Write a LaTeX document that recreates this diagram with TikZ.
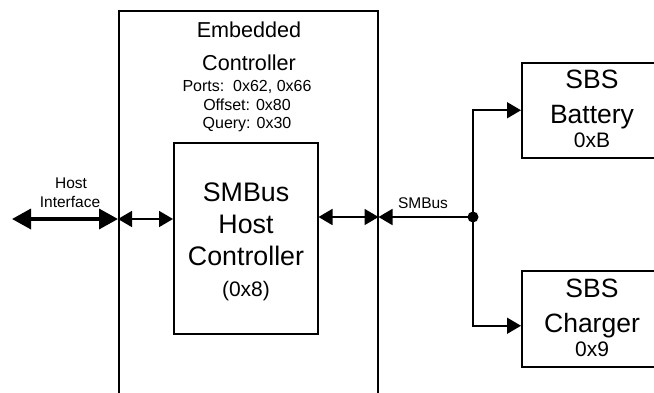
\documentclass[tikz,border=0pt]{standalone}
\usepackage{fontspec}
\setmainfont{Liberation Sans}
\usetikzlibrary{arrows.meta}
\begin{document}
\begin{tikzpicture}[x=1pt,y=-1pt,
  box/.style={draw, line width=1.5pt, inner sep=0pt, anchor=north west},
  lbl/.style={inner sep=0pt, anchor=base},
  big/.style={font=\fontsize{26.8}{26.8}\selectfont},
  huge/.style={font=\fontsize{26.5}{26.5}\selectfont},
  mid/.style={font=\fontsize{21}{21}\selectfont},
  small/.style={font=\fontsize{16}{16}\selectfont},
  tiny/.style={font=\fontsize{15.5}{15.5}\selectfont},
  tip/.tip={Triangle[length=14pt,width=16pt]},
  bigtip/.tip={Triangle[length=19pt,width=20pt]},
  link/.style={line width=1.7pt},
  thicklink/.style={line width=3.5pt, {bigtip}-{bigtip}},
]
\useasboundingbox (0,0) rectangle (654,392);

% boxes
\node[box, minimum width=259pt, minimum height=400pt] (ec) at (118,10) {};
\node[box, minimum width=144pt, minimum height=191pt] (hc) at (173,142) {};
\node[box, minimum width=142pt, minimum height=95pt] (bat) at (521,62) {};
\node[box, minimum width=142pt, minimum height=96pt] (chg) at (521,270) {};

% EC texts
\node[lbl, font=\fontsize{21.6}{21.6}\selectfont] (ec1) at (249,37.5) {Embedded};
\node[lbl, font=\fontsize{21.6}{21.6}\selectfont] (ec2) at (249,70.5) {Controller};
\node[lbl, small] (ec3) at (247,91.5) {Ports:\ \ 0x62, 0x66};
\node[lbl, small] (ec4) at (247,110) {Offset: 0x80};
\node[lbl, small] (ec5) at (247,128) {Query: 0x30};

% host controller texts
\node[lbl, big] (hc1) at (246,201.5) {SMBus};
\node[lbl, big] (hc2) at (246,233) {Host};
\node[lbl, big] (hc3) at (246,265) {Controller};
\node[lbl, mid] (hc4) at (246,296.5) {(0x8)};

% battery / charger texts
\node[lbl, huge] (b1) at (592,88) {SBS};
\node[lbl, huge] (b2) at (592,123) {Battery};
\node[lbl, mid] (b3) at (592,147) {0xB};
\node[lbl, huge] (c1) at (592,297) {SBS};
\node[lbl, huge] (c2) at (592,332) {Charger};
\node[lbl, mid] (c3) at (592,356) {0x9};

% connector labels
\node[lbl, tiny] (hi1) at (71,188) {Host};
\node[lbl, tiny] (hi2) at (70,207) {Interface};
\node[lbl, tiny] (sml) at (423,208) {SMBus};

% coordinates
\coordinate (hi) at (12,219);
\coordinate (bus) at (473,217);
\path (chg.west) ++(0,7) coordinate (chgin);

% connectors
\draw[thicklink] (hi) -- (hi -| ec.west);
\draw[link, {tip}-{tip}] (hi -| ec.west) -- (hi -| hc.west);
\draw[link, {tip}-{tip}] (bus -| hc.east) -- (bus -| ec.east);
\draw[link, -{tip}] (bus) -- (bus -| ec.east);
\draw[link, -{tip}] (bus) |- (bat.west);
\draw[link, -{tip}] (bus) |- (chgin);
\fill (bus) circle (5.5pt);
\end{tikzpicture}
\end{document}
